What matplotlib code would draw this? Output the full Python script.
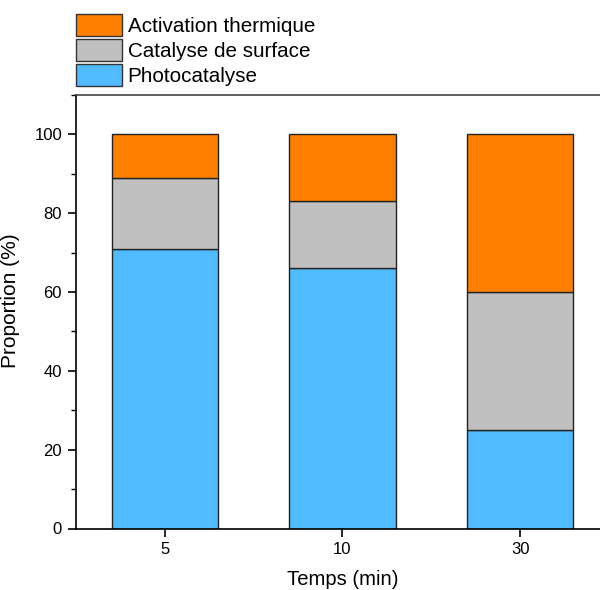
import matplotlib.pyplot as plt
from matplotlib.patches import Patch
from matplotlib.ticker import MultipleLocator

plt.rcParams['font.family'] = ['Liberation Sans', 'DejaVu Sans']

# Data
times = ['5', '10', '30']
photo = [71, 66, 25]
surface = [18, 17, 35]
thermal = [11, 17, 40]

c_photo = '#51BBFF'
c_surface = '#C0C0C0'
c_thermal = '#FF8000'

fig = plt.figure(figsize=(6, 5.9), dpi=100)
ax = fig.add_axes([76 / 600, 1 - 528.5 / 590, 533 / 600, 433.5 / 590])

x = range(len(times))
bottom2 = [p + s for p, s in zip(photo, surface)]
ax.bar(x, photo, width=0.6, color=c_photo, edgecolor='#222222', linewidth=1)
ax.bar(x, surface, bottom=photo, width=0.6, color=c_surface, edgecolor='#222222', linewidth=1)
ax.bar(x, thermal, bottom=bottom2, width=0.6, color=c_thermal, edgecolor='#222222', linewidth=1)

ax.set_xlim(-0.5, 2.5)
ax.set_ylim(0, 110)
ax.set_xticks(list(x))
ax.set_xticklabels(times)
ax.yaxis.set_major_locator(MultipleLocator(20))
ax.yaxis.set_minor_locator(MultipleLocator(10))
ax.tick_params(axis='both', which='major', direction='out', length=5.5, width=1.2,
               labelsize=12, pad=4.5)
ax.tick_params(axis='y', which='minor', direction='out', length=3.5, width=1)
ax.spines['right'].set_visible(False)
ax.spines['top'].set_color('#444444')
for s in ['left', 'bottom', 'top']:
    ax.spines[s].set_linewidth(1.2)

ax.set_xlabel('Temps (min)', fontsize=14.6, labelpad=9)
ax.set_ylabel('Proportion (%)', fontsize=15, labelpad=9)
ax.yaxis.set_label_coords(-0.105, 0.525)

handles = [Patch(facecolor=c_thermal, edgecolor='#333333', label='Activation thermique'),
           Patch(facecolor=c_surface, edgecolor='#333333', label='Catalyse de surface'),
           Patch(facecolor=c_photo, edgecolor='#333333', label='Photocatalyse')]
fig.legend(handles=handles, loc='upper left', bbox_to_anchor=(76 / 600, 1 - 14 / 590),
           frameon=False, fontsize=14.9, handlelength=2.2, handleheight=1.26,
           labelspacing=0.15, handletextpad=0.3, borderaxespad=0, borderpad=0)

fig.savefig('out.png')
